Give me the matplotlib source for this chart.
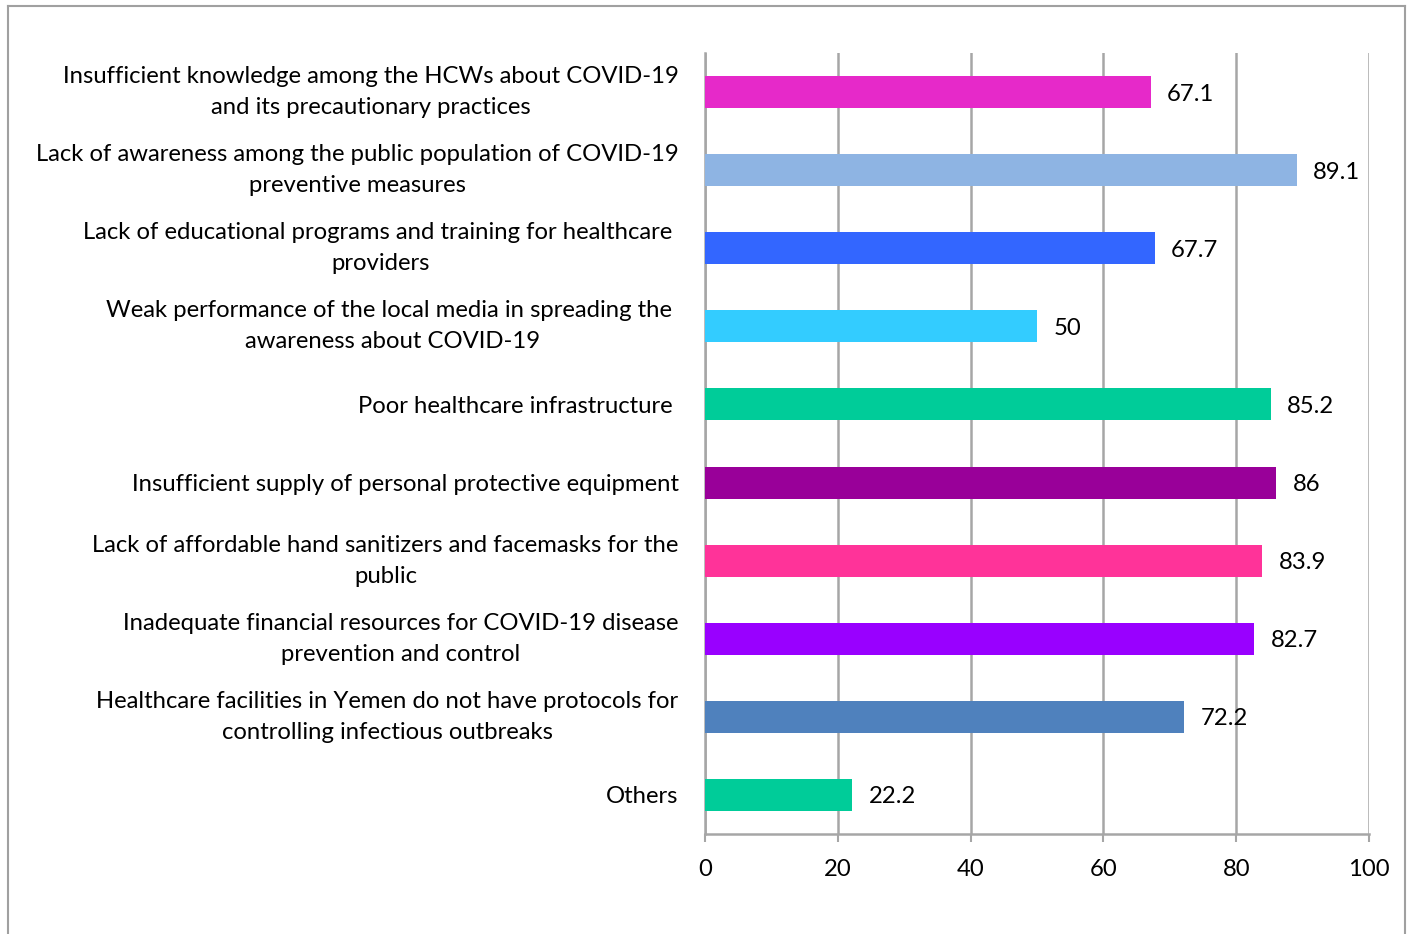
import matplotlib
matplotlib.use("Agg")
import matplotlib.pyplot as plt
from matplotlib.lines import Line2D

plt.rcParams['font.family'] = ['Lato', 'DejaVu Sans']

labels = [
    "Insufficient knowledge among the HCWs about COVID-19\nand its precautionary practices",
    "Lack of awareness among the public population of COVID-19\npreventive measures",
    "Lack of educational programs and training for healthcare \nproviders",
    "Weak performance of the local media in spreading the \nawareness about COVID-19",
    "Poor healthcare infrastructure ",
    "Insufficient supply of personal protective equipment",
    "Lack of affordable hand sanitizers and facemasks for the\npublic",
    "Inadequate financial resources for COVID-19 disease\nprevention and control",
    "Healthcare facilities in Yemen do not have protocols for\ncontrolling infectious outbreaks",
    "Others",
]
values = [67.1, 89.1, 67.7, 50, 85.2, 86, 83.9, 82.7, 72.2, 22.2]
colors = ["#E629C9", "#8EB4E3", "#3366FF", "#33CCFF", "#00CC99",
          "#990099", "#FF3399", "#9900FF", "#4F81BD", "#00CC99"]
xticks = [0, 20, 40, 60, 80, 100]

W, H = 1409, 934
fig = plt.figure(figsize=(W / 100, H / 100), dpi=100)
ax = fig.add_axes([705 / W, 1 - 834 / H, (1369 - 705) / W, (834 - 53) / H])

grey = "#A6A6A6"
fs = 17.2
pos = list(range(len(values)))
ax.barh(pos, values, height=0.41, color=colors, zorder=3)
for p, v in zip(pos, values):
    ax.text(v + 2.5, p, f"{v:g}", va="center_baseline", ha="left", fontsize=fs, zorder=4)

ax.set_ylim(len(values) - 0.5, -0.5)
ax.set_xlim(0, 100)
ax.set_xticks(xticks)
ax.set_xticklabels([str(t) for t in xticks], fontsize=fs)
ax.set_yticks(pos)
ax.set_yticklabels(labels, fontsize=fs, multialignment="center", linespacing=1.6)
# two-line labels sit centred on the bar, single lines on their baseline centre
for lbl in ax.get_yticklabels():
    if "\n" in lbl.get_text():
        lbl.set_va("center")
ax.tick_params(axis="y", length=0, pad=19)
ax.tick_params(axis="x", length=6, width=1.5, color=grey, pad=12)
ax.grid(axis="x", color=grey, linewidth=1.8, zorder=0)
for s in ["top", "right"]:
    ax.spines[s].set_visible(False)
for s in ["left", "bottom"]:
    ax.spines[s].set_color(grey)
    ax.spines[s].set_linewidth(1.8)

# outer frame (bottom edge lies below the image)
fx0, fx1, fy1 = 8 / W, 1405 / W, 1 - 6 / H
for xs, ys in [([fx0, fx0], [0, fy1]), ([fx0, fx1], [fy1, fy1]), ([fx1, fx1], [fy1, 0])]:
    fig.add_artist(Line2D(xs, ys, transform=fig.transFigure, color="#A0A0A0", linewidth=1.5))

fig.savefig("out.png", dpi=100)
